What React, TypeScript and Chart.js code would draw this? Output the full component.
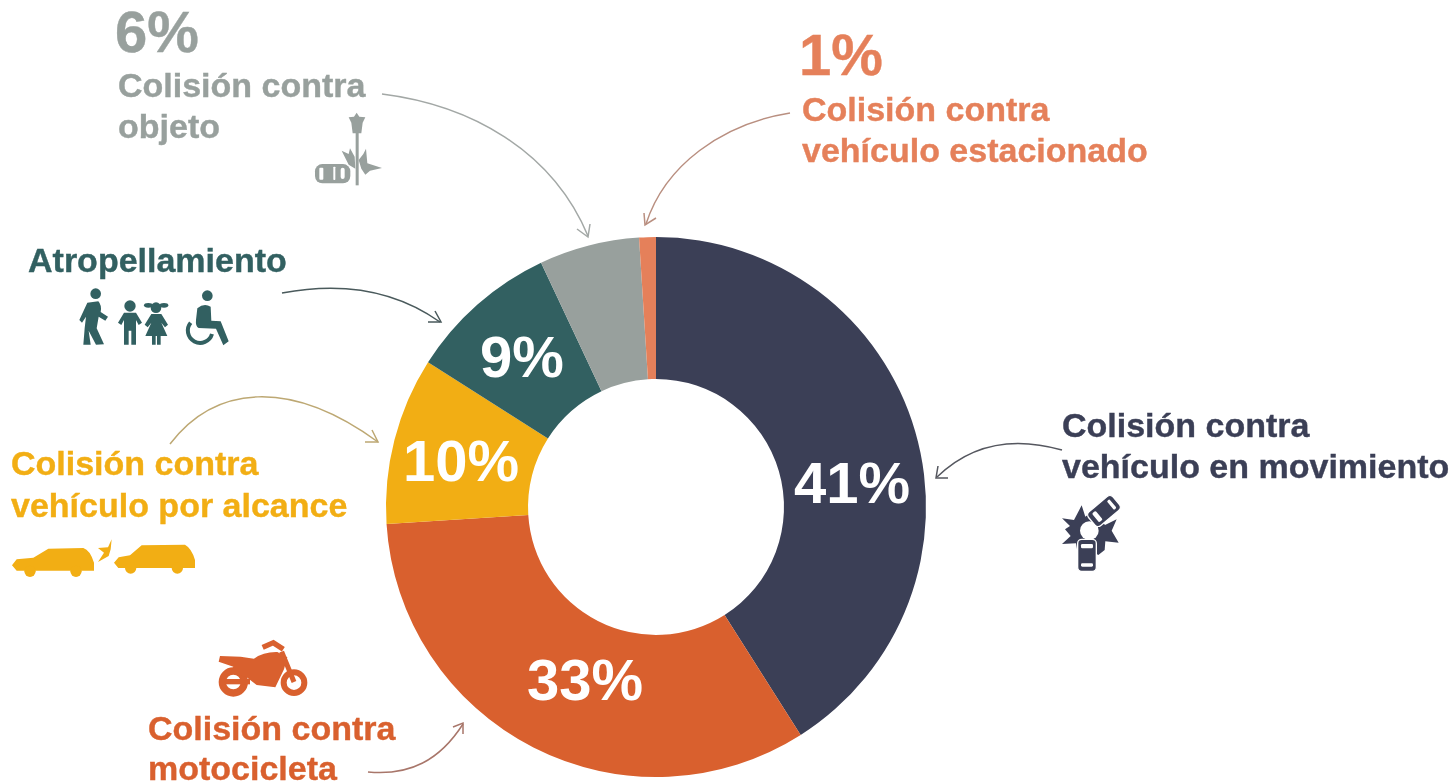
import React, { useEffect, useRef } from "react";
import { Chart, registerables } from "chart.js";

Chart.register(...registerables);

const categories = [
  "Colisión contra vehículo en movimiento",
  "Colisión contra motocicleta",
  "Colisión contra vehículo por alcance",
  "Atropellamiento",
  "Colisión contra objeto",
  "Colisión contra vehículo estacionado",
];
const values = [41, 33, 10, 9, 6, 1];
const sliceColors = ["#3b3f56", "#d9602e", "#f2ae14", "#326061", "#98a09d", "#e5805a"];
const insideLabels = ["41%", "33%", "10%", "9%", "", ""];

const NAVY = sliceColors[0];
const ORANGE = sliceColors[1];
const YELLOW = sliceColors[2];
const TEAL = sliceColors[3];
const GRAY = sliceColors[4];
const CORAL = sliceColors[5];

const insideAnchors = [
  [852, 503],
  [585, 700],
  [461, 481],
  [522, 377],
];

const textItems: { t: string; x: number; y: number; c: string; big?: boolean }[] = [
  { t: "6%", x: 115, y: 52, c: GRAY, big: true },
  { t: "Colisión contra", x: 118, y: 97, c: GRAY },
  { t: "objeto", x: 118, y: 138, c: GRAY },
  { t: "1%", x: 799, y: 75, c: CORAL, big: true },
  { t: "Colisión contra", x: 802, y: 121, c: CORAL },
  { t: "vehículo estacionado", x: 802, y: 162, c: CORAL },
  { t: "Atropellamiento", x: 28, y: 272, c: TEAL },
  { t: "Colisión contra", x: 11, y: 475, c: YELLOW },
  { t: "vehículo por alcance", x: 11, y: 517, c: YELLOW },
  { t: "Colisión contra", x: 148, y: 740, c: ORANGE },
  { t: "motocicleta", x: 148, y: 780, c: ORANGE },
  { t: "Colisión contra", x: 1062, y: 437, c: NAVY },
  { t: "vehículo en movimiento", x: 1062, y: 478, c: NAVY },
];

const arrows: { d: string; tip: string; c: string }[] = [
  { d: "M382 94 C470 105 552 150 588 236", tip: "M577 229 L588 237 L590 224", c: "#a3a8a6" },
  { d: "M790 113 C722 124 665 165 646 224", tip: "M644 213 L645 225 L656 218", c: "#b98f80" },
  { d: "M282 293 C340 282 395 290 440 322", tip: "M428 322 L441 322 L435 311", c: "#4a5a5c" },
  { d: "M170 444 C215 385 290 378 378 442", tip: "M372 430 L378 442 L365 442", c: "#bda873" },
  { d: "M368 772 C410 776 440 760 463 724", tip: "M453 727 L463 723 L463 734", c: "#a8766a" },
  { d: "M1062 450 C1020 438 975 440 937 477", tip: "M948 478 L936 478 L938 466", c: "#55575f" },
];

const fontFamily = '"Liberation Sans", Arial, sans-serif';

const insideLabelPlugin = {
  id: "insideLabels",
  afterDatasetsDraw(chart: any) {
    const ctx = chart.ctx;
    ctx.save();
    ctx.font = `bold 58px ${fontFamily}`;
    ctx.fillStyle = "#ffffff";
    ctx.textAlign = "center";
    ctx.textBaseline = "alphabetic";
    insideLabels.forEach((label, i) => {
      if (!label) return;
      const [x, y] = insideAnchors[i];
      ctx.fillText(label, x, y);
    });
    ctx.restore();
  },
};

function Icons() {
  return (
    <>
      {/* street lamp, tree and car */}
      <g transform="scale(0.33333)" fill={GRAY}>
        <path d="M1070 338 L1078 350 L1096 352 L1088 368 L1084 400 L1058 400 L1054 368 L1046 352 L1062 350 Z" />
        <rect x="1067" y="398" width="9" height="158" />
        <path d="M1025 452 L1046 462 L1050 445 L1064 470 L1066 506 L1046 494 Z" />
        <path d="M1076 480 L1090 462 L1098 446 L1102 490 L1146 504 L1110 512 L1096 524 L1084 506 Z" />
        <rect x="945" y="492" width="106" height="58" rx="22" />
        <g fill="#fff">
          <rect x="958" y="503" width="12" height="36" rx="3" />
          <rect x="1000" y="500" width="6" height="40" rx="2" />
          <rect x="1022" y="503" width="12" height="34" rx="6" />
        </g>
      </g>
      {/* pedestrians and wheelchair */}
      <g transform="scale(0.33333)" fill={TEAL}>
        <circle cx="287" cy="881" r="16" />
        <path d="M262 908 L295 904 Q306 916 302 936 L324 950 L316 962 L296 950 L290 985 L312 1033 L288 1034 L266 992 L272 1034 L250 1034 L254 985 L258 950 L246 968 L238 960 Z" />
        <circle cx="390" cy="918" r="17" />
        <path d="M372 938 H408 L426 968 L416 975 L408 960 V1034 H394 V992 H386 V1034 H372 V960 L364 975 L354 968 Z" />
        <circle cx="468" cy="923" r="16" />
        <ellipse cx="445" cy="916" rx="13" ry="7" />
        <ellipse cx="492" cy="916" rx="13" ry="7" />
        <path d="M454 942 H484 L504 974 L495 982 L484 968 L502 1008 H482 V1034 H471 V1008 H467 V1034 H456 V1008 H436 L454 968 L443 982 L434 974 Z" />
        <circle cx="622" cy="887" r="16" />
        <path d="M592 925 Q612 908 632 920 L634 962 L662 964 L686 1024 L670 1036 L648 986 L596 984 Q586 980 588 960 Z" />
        <path d="M572 968 A37 37 0 1 0 636 1002" fill="none" stroke={TEAL} strokeWidth="12" />
      </g>
      {/* rear-end collision */}
      <g transform="translate(0 380) scale(0.33333)" fill={YELLOW}>
        <path d="M36 556 L50 538 L100 533 L145 506 L250 504 Q270 510 282 548 V572 H50 Z" />
        <circle cx="90" cy="574" r="17" />
        <circle cx="228" cy="574" r="17" />
        <path d="M342 548 L356 532 L390 526 L425 496 L555 494 Q575 505 585 540 V564 H355 Z" />
        <circle cx="392" cy="564" r="17" />
        <circle cx="532" cy="564" r="17" />
        <path d="M335 478 L324 502 L294 504 L312 518 L294 546 L326 528 L332 508 Z" />
      </g>
      {/* motorcycle */}
      <g transform="translate(0 380) scale(0.33333)">
        <circle cx="700" cy="906" r="33" fill="none" stroke={ORANGE} strokeWidth="22" />
        <circle cx="882" cy="908" r="31" fill="none" stroke={ORANGE} strokeWidth="18" />
        <path d="M762 836 Q790 815 832 816 L862 832 L852 868 L826 922 L770 915 L740 892 L690 880 L700 860 L656 845 L660 828 L722 830 Z" fill={ORANGE} />
        <path d="M845 815 L882 906" stroke={ORANGE} strokeWidth="15" fill="none" />
        <path d="M788 802 L820 788 L850 808" stroke={ORANGE} strokeWidth="16" fill="none" />
        <path d="M672 905 H750" stroke={ORANGE} strokeWidth="16" fill="none" />
      </g>
      {/* two-car crash */}
      <g transform="translate(930 400) scale(0.33333)">
        <path
          d="M396 355 L432 360 L455 316 L466 350 L480 340 L500 345 L525 375 L560 358 L545 392 L566 428 L526 424 L524 450 L505 465 L480 450 L445 470 L438 430 L396 432 L422 408 L405 388 L420 378 Z"
          fill={NAVY}
        />
        <circle cx="478" cy="392" r="28" fill="#fff" />
        <g transform="rotate(50 522 333)">
          <rect x="495" y="285" width="54" height="96" rx="13" fill={NAVY} stroke="#fff" strokeWidth="4" />
          <rect x="505" y="298" width="34" height="10" rx="4" fill="#fff" />
          <rect x="505" y="352" width="34" height="14" rx="4" fill="#fff" />
        </g>
        <rect x="443" y="418" width="56" height="96" rx="12" fill={NAVY} stroke="#fff" strokeWidth="4" />
        <rect x="453" y="432" width="36" height="13" rx="4" fill="#fff" />
        <rect x="453" y="490" width="36" height="10" rx="4" fill="#fff" />
      </g>
    </>
  );
}

export default function App() {
  const canvasRef = useRef<HTMLCanvasElement | null>(null);

  useEffect(() => {
    const chart = new Chart(canvasRef.current as HTMLCanvasElement, {
      type: "doughnut",
      data: {
        labels: categories,
        datasets: [{ data: values, backgroundColor: sliceColors, borderWidth: 0, hoverOffset: 0 }],
      },
      options: {
        responsive: false,
        animation: false,
        cutout: "47.4%",
        rotation: 0,
        layout: { padding: { left: 386, right: 527, top: 237, bottom: 7 } },
        plugins: { legend: { display: false }, tooltip: { enabled: false } },
      } as any,
      plugins: [insideLabelPlugin],
    });
    return () => chart.destroy();
  }, []);

  return (
    <div
      style={{
        position: "fixed",
        left: 0,
        top: 0,
        width: 1453,
        height: 784,
        background: "#fff",
        overflow: "hidden",
        filter: "blur(0.5px)",
      }}
    >
      <canvas ref={canvasRef} width={1453} height={784} style={{ position: "absolute", left: 0, top: 0 }} />
      <svg width={1453} height={784} style={{ position: "absolute", left: 0, top: 0 }}>
        {arrows.map((a, i) => (
          <g key={i} fill="none" stroke={a.c} strokeWidth={1.5}>
            <path d={a.d} />
            <path d={a.tip} />
          </g>
        ))}
        <Icons />
        {textItems.map((it, i) => (
          <text
            key={i}
            x={it.x}
            y={it.y}
            fill={it.c}
            stroke={it.c}
            strokeWidth={0.4}
            fontFamily={fontFamily}
            fontWeight="bold"
            fontSize={it.big ? 58 : 34}
          >
            {it.t}
          </text>
        ))}
      </svg>
    </div>
  );
}
